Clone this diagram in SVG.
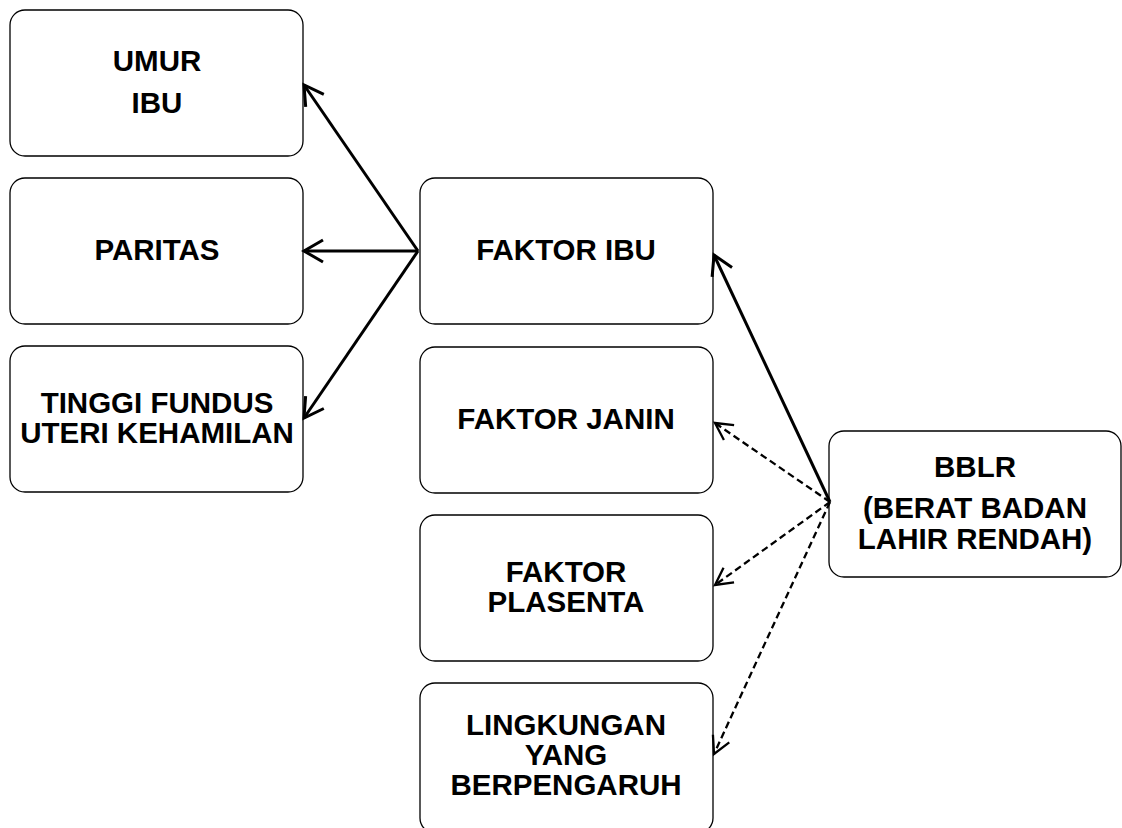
<svg xmlns="http://www.w3.org/2000/svg" width="1122" height="828" viewBox="0 0 1122 828">
<style>
.box{fill:#fff;stroke:#000;stroke-width:1.3}
.t{font-family:"Liberation Sans",Arial,sans-serif;font-weight:bold;font-size:29.5px;text-anchor:middle;fill:#000}
.s{fill:none;stroke:#000;stroke-width:3}
.d{fill:none;stroke:#000;stroke-width:2.3;stroke-dasharray:7,4}
</style>
<defs>
<marker id="as" markerUnits="userSpaceOnUse" viewBox="-24 -14 28 28" refX="0" refY="0" markerWidth="28" markerHeight="28" orient="auto">
<path d="M-19,-11 L0,0 L-19,11" fill="none" stroke="#000" stroke-width="3"/>
</marker>
<marker id="ad" markerUnits="userSpaceOnUse" viewBox="-22 -12 26 24" refX="0" refY="0" markerWidth="26" markerHeight="24" orient="auto">
<path d="M-17,-9 L0,0 L-17,9" fill="none" stroke="#000" stroke-width="2.3"/>
</marker>
</defs>
<rect width="1122" height="828" fill="#fff"/>
<g id="umur-ibu"><rect class="box" x="10" y="10" width="293" height="146" rx="15"/><text class="t" x="157" y="71">UMUR</text><text class="t" x="157" y="113">IBU</text></g>
<g id="paritas"><rect class="box" x="10" y="178" width="293" height="146" rx="15"/><text class="t" x="157" y="260">PARITAS</text></g>
<g id="tinggi-fundus"><rect class="box" x="10" y="346" width="293" height="146" rx="15"/><text class="t" x="157" y="413">TINGGI FUNDUS</text><text class="t" x="157" y="443">UTERI KEHAMILAN</text></g>
<g id="faktor-ibu"><rect class="box" x="420" y="178" width="293" height="146" rx="15"/><text class="t" x="566" y="260">FAKTOR IBU</text></g>
<g id="faktor-janin"><rect class="box" x="420" y="347" width="293" height="146" rx="15"/><text class="t" x="566" y="429">FAKTOR JANIN</text></g>
<g id="faktor-plasenta"><rect class="box" x="420" y="515" width="293" height="146" rx="15"/><text class="t" x="566" y="582">FAKTOR</text><text class="t" x="566" y="612">PLASENTA</text></g>
<g id="lingkungan"><rect class="box" x="420" y="683" width="293" height="150" rx="15"/><text class="t" x="566" y="735">LINGKUNGAN</text><text class="t" x="566" y="765">YANG</text><text class="t" x="566" y="795">BERPENGARUH</text></g>
<g id="bblr"><rect class="box" x="829" y="431" width="292" height="146" rx="15"/><text class="t" x="975" y="477">BBLR</text><text class="t" x="975" y="518">(BERAT BADAN</text><text class="t" x="975" y="549">LAHIR RENDAH)</text></g>
<g id="connectors">
<line class="s" x1="418" y1="251" x2="304" y2="85" marker-end="url(#as)"/>
<line class="s" x1="418" y1="251" x2="304" y2="251" marker-end="url(#as)"/>
<line class="s" x1="418" y1="251" x2="304" y2="418" marker-end="url(#as)"/>
<line class="s" x1="830" y1="502" x2="714" y2="255" marker-end="url(#as)"/>
<line class="d" x1="830" y1="502" x2="715" y2="423" marker-end="url(#ad)"/>
<line class="d" x1="830" y1="502" x2="715" y2="585" marker-end="url(#ad)"/>
<line class="d" x1="830" y1="502" x2="714" y2="754" marker-end="url(#ad)"/>
</g>
</svg>
